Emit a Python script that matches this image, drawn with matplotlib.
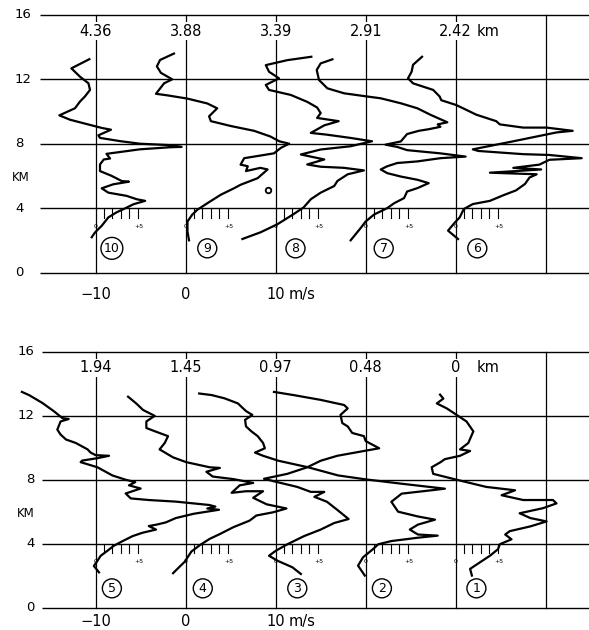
import matplotlib
matplotlib.use("Agg")
import matplotlib.pyplot as plt

# base positions (m/s on the shared axis) and labels
bases = [-10, 0, 10, 20, 30]
top_dist = ["4.36", "3.88", "3.39", "2.91", "2.42"]
bot_dist = ["1.94", "1.45", "0.97", "0.48", "0"]
top_ids = ["10", "9", "8", "7", "6"]
bot_ids = ["5", "4", "3", "2", "1"]
km_ticks = [0, 4, 8, 12, 16]

# profiles: height (km) and speed relative to the profile's own zero line (m/s)
p10_z = [13.25, 12.68, 12.16, 11.75, 11.34, 10.93, 10.62, 10.2, 9.76, 9.49, 9.22, 8.98, 8.87,
         8.52, 8.36, 8.16, 8.0, 7.91, 7.8, 7.78, 7.65, 7.37, 7.08, 7.02, 6.71, 6.3, 6.0, 5.68,
         5.64, 5.48, 5.23, 4.96, 4.76, 4.55, 4.45, 4.24, 3.93, 3.73, 3.42, 2.9, 2.49, 2.19]
p10_u = [-0.7, -2.7, -1.74, -0.8, -0.63, -1.2, -1.74, -2.3, -4.04, -2.85, -1.0, 0.67, 1.7,
         0.3, 0.48, 2.7, 4.9, 8.26, 9.55, 8.26, 4.9, 1.2, 1.6, 0.9, 0.48, 0.48, 1.78, 2.9,
         3.7, 1.96, 0.67, 1.4, 3.44, 4.56, 5.5, 4.2, 3.07, 2.3, 1.4, 0.67, -0.07, -0.44]

p9_z = [13.6, 13.2, 12.8, 12.4, 12.0, 11.75, 11.1, 11.0, 10.8, 10.5, 10.2, 9.7, 9.4, 9.1, 8.8,
        8.45, 8.15, 8.0, 7.75, 7.4, 7.3, 7.2, 7.1, 6.7, 6.6, 6.3, 6.5, 6.4, 5.86, 5.45, 5.24,
        4.83, 4.3, 3.9, 3.6, 3.17, 2.55, 2.0]
p9_u = [-1.3, -2.85, -3.2, -2.75, -1.5, -2.4, -3.3, -2.0, 0.2, 2.4, 3.5, 2.6, 2.8, 5.0, 7.6,
        9.4, 10.4, 11.5, 10.6, 9.8, 8.7, 7.6, 6.5, 6.1, 6.9, 6.7, 8.3, 9.1, 8.0, 6.1, 5.4,
        3.9, 2.4, 1.3, 0.74, 0.2, 0.2, 0.37]

p8_z = [13.4, 13.19, 12.88, 12.47, 12.06, 11.65, 11.34, 11.03, 10.6, 10.25, 9.9, 9.6, 9.4,
        9.14, 8.67, 8.56, 8.36, 8.15, 7.84, 7.64, 7.33, 7.02, 6.71, 6.57, 6.5, 6.34, 6.1,
        5.68, 5.37, 4.96, 4.55, 4.04, 3.63, 3.0, 2.5, 2.08]
p8_u = [3.96, 1.3, -1.1, -0.74, 0.37, -1.1, -0.74, 1.67, 3.5, 4.6, 5.0, 4.6, 7.0,
        5.4, 3.9, 5.7, 8.3, 10.7, 8.3, 5.0, 2.8, 5.4, 3.5, 5.0, 7.6, 9.8, 8.0,
        6.85, 6.5, 5.0, 3.9, 3.1, 2.0, 0.2, -1.67, -3.7]

p7_z = [13.24, 12.99, 12.58, 11.96, 11.44, 11.13, 10.93, 10.82, 10.51, 10.2, 9.79, 9.33, 9.2,
        9.05, 8.9, 8.8, 8.6, 8.14, 7.94, 7.8, 7.6, 7.4, 7.2, 7.1, 6.9, 6.8, 6.6, 6.4, 6.17,
        5.96, 5.76, 5.55, 5.24, 5.03, 4.62, 4.3, 4.0, 3.6, 3.17, 2.76, 2.0]
p7_u = [-3.7, -5.0, -5.44, -5.19, -4.26, -2.4, 0.19, 1.67, 3.9, 5.74, 7.22, 9.07, 8.0,
        8.3, 7.0, 5.9, 4.6, 3.9, 2.2, 3.5, 4.6, 8.3, 11.1, 8.3, 5.74, 3.5, 2.4, 1.67, 2.4,
        3.9, 5.74, 7.0, 5.74, 4.6, 4.26, 3.15, 2.4, 0.93, 0.0, -0.56, -1.67]

p6_z = [13.4, 12.9, 12.47, 12.06, 11.75, 11.34, 10.93, 10.7, 10.4, 9.8, 9.4, 9.2, 9.0, 9.0,
        8.8, 8.7, 8.15, 7.65, 7.55, 7.35, 7.3, 7.1, 7.0, 6.7, 6.5, 6.4, 6.3, 6.2, 6.1, 5.9,
        5.5, 5.1, 4.8, 4.45, 4.25, 3.94, 3.42, 3.1, 2.6, 2.08]
p6_u = [-3.74, -4.74, -4.9, -5.3, -4.74, -2.5, -1.78, -1.6, 0.07, 2.3, 4.5, 4.9, 7.5, 10.1,
        13.0, 11.2, 6.4, 1.9, 2.5, 7.5, 10.4, 14.0, 10.4, 9.3, 6.4, 9.5, 6.7, 3.8, 9.0, 8.2,
        7.7, 6.7, 5.3, 3.8, 1.9, 0.9, 0.44, -0.1, -0.85, 0.26]

p5_z = [13.5, 13.3, 12.8, 12.27, 11.86, 11.8, 11.65, 11.14, 10.83, 10.52, 10.3, 9.9, 9.7,
        9.54, 9.5, 9.35, 9.2, 9.1, 8.78, 8.27, 8.0, 7.85, 7.65, 7.45, 7.14, 6.83, 6.73, 6.63,
        6.42, 6.32, 6.2, 6.12, 5.87, 5.6, 5.33, 5.2, 5.1, 4.88, 4.68, 4.47, 4.16, 3.86, 3.55,
        3.24, 2.93, 2.6, 2.2]
p5_u = [-8.2, -7.4, -5.9, -4.6, -3.7, -3.0, -3.9, -4.26, -3.9, -3.3, -2.2, -0.9, -0.56,
        0.0, 1.48, 0.2, -1.5, -1.67, 0.2, 1.85, 3.33, 4.4, 3.7, 5.0, 3.33, 3.9, 5.9, 8.9,
        12.6, 13.3, 12.4, 13.7, 10.9, 8.9, 7.8, 6.85, 5.9, 6.7, 5.2, 4.1, 3.0, 2.0, 1.3,
        0.56, 0.2, -0.2, 0.37]

p4_z = [13.2, 12.78, 12.37, 12.0, 11.65, 11.24, 11.0, 10.73, 10.3, 9.9, 9.4, 9.1, 8.78, 8.74,
        8.5, 8.2, 8.04, 7.8, 7.65, 7.18, 7.28, 7.28, 6.87, 6.46, 6.2, 5.96, 5.76, 5.44, 5.03,
        4.6, 4.3, 3.9, 3.5, 2.87, 2.56, 2.15]
p4_u = [-6.4, -5.5, -4.74, -3.44, -4.37, -4.37, -3.26, -1.96, -2.33, -2.9, -1.4, 0.07, 2.67, 3.8,
        2.3, 3.0, 5.3, 7.5, 6.0, 5.1, 6.7, 8.6, 7.5, 9.0, 11.2, 9.7, 7.85, 7.1, 5.3,
        3.8, 2.67, 1.56, 0.63, -0.1, -0.67, -1.4]

p3_z = [13.5, 13.3, 13.0, 12.68, 12.47, 12.06, 11.55, 11.34, 10.93, 10.73, 10.42, 9.97, 9.8,
        9.5, 9.19, 8.78, 8.37, 8.06, 7.85, 7.55, 7.24, 7.24, 6.93, 6.62, 6.11, 5.54, 5.29,
        4.88, 4.47, 3.96, 3.55, 3.24, 2.93, 2.52, 2.1]
p3_u = [-0.19, 2.0, 5.0, 7.6, 8.0, 7.2, 7.4, 8.0, 8.5, 9.8, 10.0, 11.5, 9.8,
        6.85, 5.0, 3.5, 1.3, -1.3, 0.19, 2.4, 3.9, 5.4, 4.3, 5.7, 6.85, 8.1, 6.5,
        5.0, 3.15, 1.3, 0.0, -0.74, 0.19, 1.85, 2.8]

p2_z = [13.4, 13.3, 13.1, 12.78, 12.3, 12.06, 11.75, 11.34, 11.03, 10.73, 10.3, 9.97, 9.7, 9.5,
        9.19, 8.78, 8.27, 8.02, 7.75, 7.44, 7.34, 7.13, 6.62, 6.0, 5.7, 5.5, 5.19, 4.88, 4.57,
        4.5, 4.37, 4.16, 3.96, 3.65, 3.14, 2.62, 2.0]
p2_u = [-18.5, -17.1, -15.7, -14.2, -13.3, -12.6, -13.4, -13.3, -12.7, -12.0, -11.4, -11.2, -12.3,
        -11.4, -9.7, -6.4, -3.07, 0.04, 4.0, 8.8, 7.3, 4.0, 2.85, 3.6, 5.8, 7.7, 5.8, 4.9,
        5.8, 8.0, 5.8, 2.85, 1.4, 0.8, -0.3, -0.85, -0.1]

p1_z = [13.33, 13.08, 12.78, 12.47, 12.06, 11.65, 11.03, 10.3, 9.9, 9.8, 9.5, 9.29, 9.08, 8.78,
        8.37, 8.0, 7.55, 7.34, 7.03, 6.73, 6.73, 6.52, 6.22, 5.9, 5.6, 5.39, 5.08, 4.78, 4.57,
        4.27, 3.96, 3.65, 3.24, 2.83, 2.42, 2.0]
p1_u = [-1.74, -1.37, -2.1, -1.0, 0.1, 1.2, 1.96, 1.4, 0.48, 1.6, 0.48, -1.2, -1.74, -2.67,
        -2.5, 0.1, 3.4, 6.6, 5.1, 7.5, 10.8, 11.2, 9.7, 7.1, 8.3, 10.1, 8.3, 6.0, 5.5,
        6.2, 4.9, 4.7, 3.8, 2.7, 1.6, 1.8]

top_profiles = [(p10_z, p10_u), (p9_z, p9_u), (p8_z, p8_u), (p7_z, p7_u), (p6_z, p6_u)]
bot_profiles = [(p5_z, p5_u), (p4_z, p4_u), (p3_z, p3_u), (p2_z, p2_u), (p1_z, p1_u)]
top_id_offset = [1.8, 2.4, 2.2, 2.0, 2.4]
bot_id_offset = [1.8, 1.9, 2.4, 1.8, 2.3]

# stray ink blob on profile 9 panel
blob_x = [9.1]
blob_z = [5.15]

W, H = 589, 630
XMIN, XMAX = -20.63, 44.81
plt.rcParams["font.family"] = "DejaVu Sans"

fig = plt.figure(figsize=(W / 100, H / 100), dpi=100)


def draw_panel(ax, profiles, dist, ids, id_off, line_x0, ylab_ha, ylab_x, km_x, id_z, xlab_z):
    ax.set_xlim(XMIN, XMAX)
    ax.axis("off")
    # frame / grid
    for k in km_ticks:
        ax.plot([line_x0, XMAX], [k, k], color="black", lw=1.0, solid_capstyle="butt")
        ax.text(ylab_x, k, str(k), ha=ylab_ha, va="center", fontsize=9.5)
    for b in bases + [40]:
        ax.plot([b, b], [0, 16], color="black", lw=0.9)
    ax.text(km_x, 5.9, "KM", ha="center", va="center", fontsize=8.5)
    # small speed scales under the 4 km line
    for b in bases:
        for k in range(1, 6):
            ax.plot([b + 0.93 * k] * 2, [4, 3.4], color="black", lw=0.8)
        ax.text(b, 2.85, "0", ha="center", va="center", fontsize=4.5)
        ax.text(b + 4.75, 2.85, "+5", ha="center", va="center", fontsize=4.5)
    # profiles
    for b, (z, u) in zip(bases, profiles):
        ax.plot([b + v for v in u], z, color="black", lw=1.6, solid_joinstyle="round")
    # distance labels along the top
    for b, d in zip(bases, dist):
        ax.text(b, 15.0, d, ha="center", va="center", fontsize=10.5,
                bbox=dict(boxstyle="square,pad=0.12", fc="white", ec="none"))
    ax.text(32.3, 15.0, "km", ha="left", va="center", fontsize=10.5)
    # circled profile numbers
    for b, n, off in zip(bases, ids, id_off):
        ax.text(b + off, id_z, n, ha="center", va="center", fontsize=9,
                bbox=dict(boxstyle="circle,pad=0.24", fc="white", ec="black", lw=1.0))
    # speed axis labels
    ax.text(-10, xlab_z, "\u221210", ha="center", va="center", fontsize=10.5)
    ax.text(0, xlab_z, "0", ha="center", va="center", fontsize=10.5)
    ax.text(10, xlab_z, "10", ha="center", va="center", fontsize=10.5)
    ax.text(11.4, xlab_z, "m/s", ha="left", va="center", fontsize=10.5)


# top panel: 0 km at py 272.5, 16.1 px per km, spans py 0..300
ax1 = fig.add_axes([0, (H - 300) / H, 1, 300 / H])
ax1.set_ylim(-27.5 / 16.1, 272.5 / 16.1)
draw_panel(ax1, top_profiles, top_dist, top_ids, top_id_offset,
           line_x0=-16.19, ylab_ha="left", ylab_x=-18.97, km_x=-18.3,
           id_z=1.5, xlab_z=-1.34)
ax1.plot(blob_x, blob_z, marker="o", ms=4, mfc="none", mec="black", mew=1.3, ls="none")

# bottom panel: 0 km at py 607.5, 15.97 px per km, spans py 320..630
ax2 = fig.add_axes([0, 0, 1, 310 / H])
ax2.set_ylim((607.5 - 630) / 15.97, (607.5 - 320) / 15.97)
draw_panel(ax2, bot_profiles, bot_dist, bot_ids, bot_id_offset,
           line_x0=-15.97, ylab_ha="right", ylab_x=-16.8, km_x=-17.75,
           id_z=1.2, xlab_z=-0.9)

fig.savefig("out.png", dpi=100)
